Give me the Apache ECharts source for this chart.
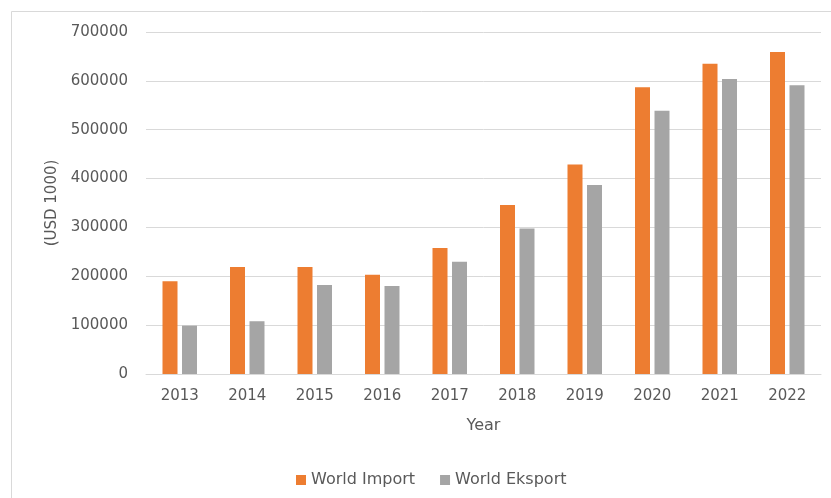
<!DOCTYPE html>
<html>
<head>
<meta charset="utf-8">
<script src="https://cdn.jsdelivr.net/npm/echarts@6/dist/echarts.min.js"></script>
<style>html,body{margin:0;padding:0;background:#fff;}#c{width:831px;height:498px;}</style>
</head>
<body>
<div id="c"></div>
<script>
const years = ['2013','2014','2015','2016','2017','2018','2019','2020','2021','2022'];
const worldImport = [190000, 219000, 219000, 203000, 258000, 346000, 429000, 587000, 635000, 659000];
const worldEksport = [99000, 108000, 182000, 180000, 230000, 298000, 387000, 539000, 604000, 591000];
const yTicks = { min: 0, max: 700000, interval: 100000 };

const font = 'DejaVu Sans';
const txt = '#595959';
const chart = echarts.init(document.getElementById('c'), null, { renderer: 'canvas' });
chart.setOption({
  animation: false,
  backgroundColor: '#fff',
  textStyle: { fontFamily: font },
  graphic: [{
    type: 'rect', shape: { x: 11.5, y: 11.5, width: 840, height: 500 },
    style: { fill: 'none', stroke: '#D9D9D9', lineWidth: 1 }, silent: true, z: -1
  }],
  grid: { left: 146, right: 10, top: 32, bottom: 124 },
  legend: {
    left: 291, top: 467, itemWidth: 10, itemHeight: 10, itemGap: 25, icon: 'rect',
    textStyle: { color: txt, fontSize: 16, fontFamily: font }
  },
  xAxis: {
    type: 'category', data: years,
    name: 'Year', nameLocation: 'middle', nameGap: 44,
    nameTextStyle: { color: txt, fontSize: 16, fontFamily: font },
    axisLine: { lineStyle: { color: '#D9D9D9', width: 1 } },
    axisTick: { show: false },
    axisLabel: { color: txt, fontSize: 15, margin: 15, fontFamily: font }
  },
  yAxis: {
    type: 'value', min: yTicks.min, max: yTicks.max, interval: yTicks.interval,
    name: '(USD 1000)', nameLocation: 'middle', nameRotate: 90, nameGap: 84,
    nameTextStyle: { color: txt, fontSize: 15, fontFamily: font },
    axisLine: { show: false }, axisTick: { show: false },
    splitLine: { lineStyle: { color: '#D9D9D9', width: 1 } },
    axisLabel: { color: txt, fontSize: 15, margin: 18, fontFamily: font,
      formatter: function (v) { return String(v); } }
  },
  series: [
    { name: 'World Import', type: 'bar', data: worldImport, barWidth: 15, barGap: '30%',
      itemStyle: { color: '#ED7D31' } },
    { name: 'World Eksport', type: 'bar', data: worldEksport, barWidth: 15, barGap: '30%',
      itemStyle: { color: '#A5A5A5' } }
  ]
});
</script>
</body>
</html>
